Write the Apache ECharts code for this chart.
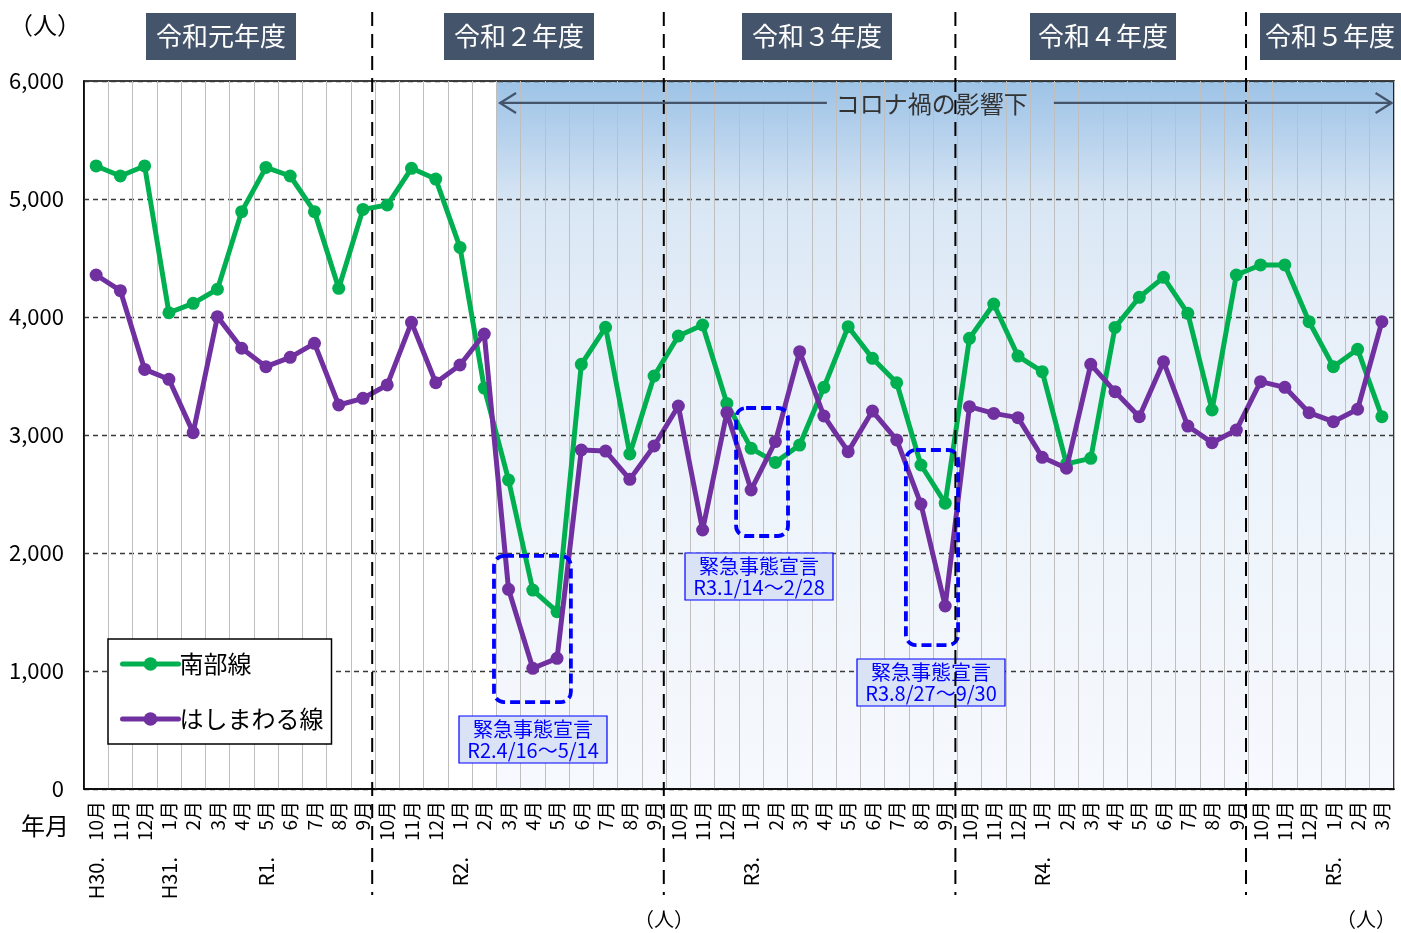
<!DOCTYPE html>
<html><head><meta charset="utf-8">
<script src="https://cdn.jsdelivr.net/npm/echarts@6/dist/echarts.min.js"></script>
<style>html,body{margin:0;padding:0;background:#fff}#c{width:1401px;height:933px}</style>
</head><body><div id="c"></div>
<script>
// ---- data ----
const months = ['10月','11月','12月','1月','2月','3月','4月','5月','6月','7月','8月','9月',
  '10月','11月','12月','1月','2月','3月','4月','5月','6月','7月','8月','9月',
  '10月','11月','12月','1月','2月','3月','4月','5月','6月','7月','8月','9月',
  '10月','11月','12月','1月','2月','3月','4月','5月','6月','7月','8月','9月',
  '10月','11月','12月','1月','2月','3月'];
const eraLabels = ['H30.','','','H31.','','','','R1.','','','','',
  '','','','R2.','','','','','','','','',
  '','','','R3.','','','','','','','','',
  '','','','R4.','','','','','','','','',
  '','','','R5.','',''];
const nanbu = [5280,5195,5280,4036,4116,4235,4893,5268,5195,4893,4243,4912,
  4949,5260,5169,4590,3398,2619,1686,1503,3599,3913,2839,3500,
  3839,3932,3268,2887,2768,2915,3404,3918,3650,3443,2746,2422,
  3819,4110,3669,3537,2755,2802,3912,4167,4336,4031,3212,4356,
  4441,4441,3960,3579,3726,3155];
const hashimawaru = [4356,4223,3556,3472,3020,4003,3735,3579,3658,3777,3254,3311,
  3424,3955,3443,3593,3856,1692,1023,1107,2873,2864,2624,2907,
  3246,2195,3189,2534,2944,3706,3161,2859,3203,2958,2415,1551,
  3240,3183,3147,2811,2718,3599,3367,3155,3621,3076,2935,3042,
  3452,3404,3189,3113,3218,3960];
const yTicks = [0,1000,2000,3000,4000,5000,6000];
const fiscalYears = ['令和元年度','令和２年度','令和３年度','令和４年度','令和５年度'];
const declarationTitles = ['緊急事態宣言','緊急事態宣言','緊急事態宣言'];
const declarationPeriods = ['R2.4/16～5/14','R3.1/14～2/28','R3.8/27～9/30'];
const seriesNames = ['南部線','はしまわる線'];
const coronaLabel = 'コロナ禍の影響下';

const F = "'Noto Sans CJK JP', 'Noto Sans', sans-serif";
const chart = echarts.init(document.getElementById('c'));

const option = {
  animation: false,
  textStyle: { fontFamily: F },
  grid: { left: 84, right: 7, top: 81, bottom: 144, show: true, borderColor: '#000', borderWidth: 1.6, backgroundColor: 'rgba(0,0,0,0)' },
  legend: {
    data: seriesNames, left: 108, top: 639, orient: 'vertical',
    padding: [13, 8, 13, 12], itemGap: 31, itemWidth: 56, itemHeight: 17,
    backgroundColor: '#fff', borderColor: '#000', borderWidth: 1.5, borderRadius: 0,
    lineStyle: { width: 5, cap: 'round' },
    textStyle: { fontSize: 24, color: '#000', fontFamily: F, padding: [0, 0, 0, -4] }
  },
  xAxis: [
    { type: 'category', data: months, boundaryGap: true,
      axisLine: { lineStyle: { color: '#000', width: 1.6 } }, axisTick: { show: false },
      splitLine: { show: true, interval: 0, lineStyle: { color: '#bfbfbf', width: 1 } },
      axisLabel: { interval: 0, rotate: 90, fontSize: 19, color: '#000', margin: 12, fontFamily: F } },
    { type: 'category', data: eraLabels, position: 'bottom', offset: 62,
      axisLine: { show: false }, axisTick: { show: false }, splitLine: { show: false },
      axisLabel: { interval: 0, rotate: 90, fontSize: 20, color: '#000', margin: 6, fontFamily: F } },
    { type: 'value', min: 0, max: months.length, show: false }
  ],
  yAxis: [{
    type: 'value', min: yTicks[0], max: yTicks[yTicks.length - 1], interval: 1000,
    axisLine: { show: true, lineStyle: { color: '#000', width: 1.6 } }, axisTick: { show: false },
    splitLine: { lineStyle: { type: [5, 4], color: '#3a3a3a', width: 1.3 } },
    axisLabel: { formatter: v => v.toLocaleString('en-US'), fontSize: 22, margin: 20, color: '#000', fontFamily: F }
  }],
  series: [
    { name: 'bg', type: 'line', xAxisIndex: 2, yAxisIndex: 0, data: [[0, 0]], symbol: 'none',
      lineStyle: { opacity: 0 }, silent: true, z: -1,
      markArea: { silent: true, z: -5, zlevel: 0, itemStyle: { color: {
        type: 'linear', x: 0, y: 0, x2: 0, y2: 1,
        colorStops: [
          { offset: 0, color: '#9dc3e6' }, { offset: 0.07, color: '#b4d0ec' },
          { offset: 0.17, color: '#d8e6f4' }, { offset: 0.35, color: '#e7eff9' },
          { offset: 0.6, color: '#eef4fb' }, { offset: 1, color: '#f6f9fd' }] } },
        data: [[{ xAxis: 17, yAxis: 6000 }, { xAxis: 54, yAxis: 0 }]] } },
    { name: seriesNames[0], type: 'line', data: nanbu, symbol: 'circle', symbolSize: 13,
      itemStyle: { color: '#00b050' }, lineStyle: { color: '#00b050', width: 5 }, z: 3 },
    { name: seriesNames[1], type: 'line', data: hashimawaru, symbol: 'circle', symbolSize: 13,
      itemStyle: { color: '#7030a0' }, lineStyle: { color: '#7030a0', width: 5 }, z: 4 }
  ]
};
chart.setOption(option);

const P = (u, v) => chart.convertToPixel({ seriesIndex: 0 }, [u, v]);
const g = [];
// fiscal year dashed separators
[11.88, 23.9, 35.92, 47.9].forEach(u => {
  const x = P(u, 0)[0];
  g.push({ type: 'line', z: 50, shape: { x1: x, y1: 12, x2: x, y2: 895 },
    style: { stroke: '#000', lineWidth: 2, lineDash: [14, 8] } });
});
// fiscal year title boxes
const titleBoxes = [[146, 150], [444, 150], [742, 150], [1030, 146], [1260, 150]];
fiscalYears.forEach((t, i) => {
  const [x, w] = titleBoxes[i];
  g.push({ type: 'rect', z: 60, shape: { x: x, y: 13, width: w, height: 47 }, style: { fill: '#44546a' } });
  g.push({ type: 'text', z: 61, x: x + w / 2 + (i === 4 ? -5 : 0), y: 36.5,
    style: { text: t, fill: '#fff', font: '26px ' + F, textAlign: 'center', textVerticalAlign: 'middle' } });
});
// corona arrow
{
  const [xl, y] = P(17.15, 5814);
  const xr = P(53.9, 5814)[0];
  const xc = P(34.95, 5814)[0];
  const st = { stroke: '#44546a', lineWidth: 2.2, fill: 'none' };
  g.push({ type: 'line', z: 55, shape: { x1: xl, y1: y, x2: xc - 105, y2: y }, style: st });
  g.push({ type: 'line', z: 55, shape: { x1: xc + 122, y1: y, x2: xr, y2: y }, style: st });
  g.push({ type: 'polyline', z: 55, shape: { points: [[xl + 16, y - 10], [xl, y], [xl + 16, y + 10]] }, style: st });
  g.push({ type: 'polyline', z: 55, shape: { points: [[xr - 16, y - 10], [xr, y], [xr - 16, y + 10]] }, style: st });
  g.push({ type: 'text', z: 56, x: xc, y: y + 1,
    style: { text: coronaLabel, fill: '#333', font: '24px ' + F, textAlign: 'center', textVerticalAlign: 'middle' } });
}
// declaration dashed rectangles (in data units)
[[16.9, 20.07, 1975, 737], [26.88, 29.02, 3229, 2144], [33.88, 36.03, 2873, 1220]].forEach(r => {
  const a = P(r[0], r[2]), b = P(r[1], r[3]);
  g.push({ type: 'rect', z: 40, shape: { x: a[0], y: a[1], width: b[0] - a[0], height: b[1] - a[1], r: 10 },
    style: { fill: 'none', stroke: '#0000ff', lineWidth: 3.8, lineDash: [10, 5] } });
});
// declaration labels
[[459, 716], [685, 553], [857, 659]].forEach((p, i) => {
  g.push({ type: 'rect', z: 45, shape: { x: p[0], y: p[1], width: 148, height: 47 },
    style: { fill: '#d9e3f5', stroke: '#0000ff', lineWidth: 1.2 } });
  g.push({ type: 'text', z: 46, x: p[0] + 74, y: p[1] + 13,
    style: { text: declarationTitles[i], fill: '#0000ff', font: '20px ' + F, textAlign: 'center', textVerticalAlign: 'middle' } });
  g.push({ type: 'text', z: 46, x: p[0] + 74, y: p[1] + 34,
    style: { text: declarationPeriods[i], fill: '#0000ff', font: '20px ' + F, textAlign: 'center', textVerticalAlign: 'middle' } });
});
// unit / axis texts
g.push({ type: 'text', x: 45, y: 25, style: { text: '（人）', fill: '#000', font: '24px ' + F, textAlign: 'center', textVerticalAlign: 'middle' } });
g.push({ type: 'text', x: 45, y: 826, style: { text: '年月', fill: '#000', font: '24px ' + F, textAlign: 'center', textVerticalAlign: 'middle' } });
g.push({ type: 'text', x: 664, y: 919, style: { text: '（人）', fill: '#000', font: '20px ' + F, textAlign: 'center', textVerticalAlign: 'middle' } });
g.push({ type: 'text', x: 1366, y: 919, style: { text: '（人）', fill: '#000', font: '20px ' + F, textAlign: 'center', textVerticalAlign: 'middle' } });

chart.setOption({ graphic: g });
</script>
</body></html>
